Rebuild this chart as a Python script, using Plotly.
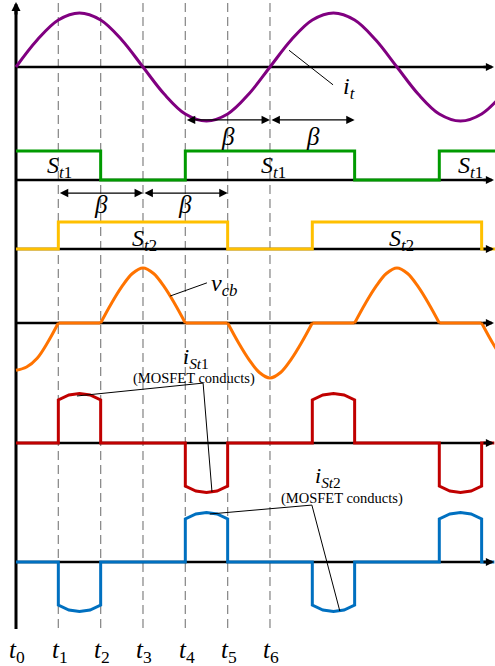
import numpy as np
import plotly.graph_objects as go

# ---------------------------------------------------------------- data
# time axis in units of one switching interval (t1 - t0)
T_TICKS = [0, 1, 2, 3, 4, 5, 6]
T_TICK_TEXT = ["<i>t</i><sub>0</sub>", "<i>t</i><sub>1</sub>", "<i>t</i><sub>2</sub>",
               "<i>t</i><sub>3</sub>", "<i>t</i><sub>4</sub>", "<i>t</i><sub>5</sub>",
               "<i>t</i><sub>6</sub>"]
GUIDE_TIMES = [1, 2, 3, 4, 5, 6]

# transformer current i_t (normalised), sampled every half interval
IT_T = np.arange(0.0, 12.0, 0.5)
IT_V = [0, 0.5, 0.87, 1, 0.87, 0.5, 0, -0.5, -0.87, -1, -0.87, -0.5,
        0, 0.5, 0.87, 1, 0.87, 0.5, 0, -0.5, -0.87, -1, -0.87, -0.5]

# gate signals S_t1 / S_t2 (edges, held until next edge)
ST1_T = [0, 2, 4, 8, 10, 11.4]
ST1_V = [1, 0, 1, 0, 1, 1]
ST2_T = [0, 1, 5, 7, 11, 11.4]
ST2_V = [0, 1, 0, 1, 0, 0]

# capacitor voltage v_cb, sampled every quarter interval
VCB_T = np.arange(0.0, 11.75, 0.25)
VCB_V = [-0.86, -0.8, -0.64, -0.35, 0,
         0, 0, 0, 0,
         0.35, 0.66, 0.9, 1, 0.9, 0.66, 0.35, 0,
         0, 0, 0, 0,
         -0.35, -0.66, -0.9, -1, -0.9, -0.66, -0.35, 0,
         0, 0, 0, 0,
         0.35, 0.66, 0.9, 1, 0.9, 0.66, 0.35, 0,
         0, 0, 0, 0,
         -0.35, -0.66]
VCB_KINKS = [1, 2, 4, 5, 7, 8, 10, 11]

# switch currents i_St1 / i_St2
IS_T = [0, 1, 1, 1.25, 1.5, 1.75, 2, 2,
        4, 4, 4.25, 4.5, 4.75, 5, 5,
        7, 7, 7.25, 7.5, 7.75, 8, 8,
        10, 10, 10.25, 10.5, 10.75, 11, 11, 11.3]
IST1_V = [0, 0, 0.87, 0.97, 1, 0.97, 0.87, 0,
          0, -0.87, -0.97, -1, -0.97, -0.87, 0,
          0, 0.87, 0.97, 1, 0.97, 0.87, 0,
          0, -0.87, -0.97, -1, -0.97, -0.87, 0, 0]
IST2_V = [0, 0, -0.87, -0.97, -1, -0.97, -0.87, 0,
          0, 0.87, 0.97, 1, 0.97, 0.87, 0,
          0, -0.87, -0.97, -1, -0.97, -0.87, 0,
          0, 0.87, 0.97, 1, 0.97, 0.87, 0, 0]

# ---------------------------------------------------------------- layout geometry
W, H = 495, 666
X0_PX, UNIT_PX = 16.0, 42.33
FONT = "Liberation Serif, Times New Roman, Times, serif"

# row: (axis id, zero line pixel row, pixels per unit, value range)
ROWS = {
    "it":   ("y",  67, 54.0, (-1.25, 1.2)),
    "st1":  ("y2", 180, 29.0, (-0.6, 1.6)),
    "st2":  ("y3", 249, 27.0, (-0.6, 1.6)),
    "vcb":  ("y4", 323, 55.0, (-1.2, 1.2)),
    "ist1": ("y5", 443, 49.5, (-1.3, 1.3)),
    "ist2": ("y6", 562, 49.5, (-1.3, 1.3)),
}

COLORS = {"it": "#800080", "st1": "#009a00", "st2": "#ffc000",
          "vcb": "#ff7300", "ist1": "#c00000", "ist2": "#0070c0"}
LW = 3


def tx(px):
    return (px - X0_PX) / UNIT_PX


def py(p):
    return 1 - p / H


X_END = tx(494)

fig = go.Figure()


def add(row, x, y, shape="linear", smoothing=1.0):
    fig.add_trace(go.Scatter(
        x=list(x), y=list(y), mode="lines", yaxis=ROWS[row][0],
        line=dict(color=COLORS[row], width=LW, shape=shape, smoothing=smoothing),
        hoverinfo="skip", showlegend=False))


add("it", IT_T, IT_V, shape="spline")
add("st1", ST1_T, ST1_V, shape="hv")
add("st2", ST2_T, ST2_V, shape="hv")

# v_cb drawn piecewise so the corners at the switching instants stay sharp
vt = list(VCB_T)
cuts = [0] + [vt.index(k) for k in VCB_KINKS] + [len(vt) - 1]
for a, b in zip(cuts[:-1], cuts[1:]):
    add("vcb", vt[a:b + 1], VCB_V[a:b + 1], shape="spline")

add("ist1", IS_T, IST1_V)
add("ist2", IS_T, IST2_V)

# leader lines from labels to waveforms
LEADERS = [
    ("it", [6.45, 7.49], [0.31, -0.33]),
    ("vcb", [3.64, 4.51], [0.49, 0.73]),
    ("ist1", [1.44, 4.42, 4.63], [0.95, 1.21, -0.99]),
    ("ist2", [4.58, 6.99, 7.65], [0.97, 1.15, -0.99]),
]
for row, lx, ly in LEADERS:
    fig.add_trace(go.Scatter(x=lx, y=ly, mode="lines", yaxis=ROWS[row][0],
                             line=dict(color="black", width=1),
                             hoverinfo="skip", showlegend=False))

shapes = []
annotations = []

# dashed guides at t1..t6
for t in GUIDE_TIMES:
    shapes.append(dict(type="line", xref="x", yref="paper", x0=t, x1=t,
                       y0=py(628), y1=1, layer="below",
                       line=dict(color="#8c8c8c", width=1.3, dash="9px,5px")))

# vertical time-origin axis with arrow at top
shapes.append(dict(type="line", xref="x", yref="paper", x0=0, x1=0,
                   y0=py(629), y1=py(10), layer="below",
                   line=dict(color="black", width=3)))
annotations.append(dict(x=0, y=py(2), xref="x", yref="paper", text="",
                        showarrow=True, ax=0, ay=14, arrowhead=2, arrowsize=0.6,
                        arrowwidth=3, arrowcolor="black"))

# horizontal zero line of every row, ending in an arrow
for row, (yid, _, _, _) in ROWS.items():
    shapes.append(dict(type="line", xref="x", yref=yid, x0=0, x1=X_END - 0.1,
                       y0=0, y1=0, layer="below",
                       line=dict(color="black", width=2.5)))
    annotations.append(dict(x=X_END, y=0, xref="x", yref=yid, text="",
                            showarrow=True, ax=-12, ay=0, arrowhead=2,
                            arrowsize=0.65, arrowwidth=2.5, arrowcolor="black"))

# beta interval arrows
BETA_ARROWS = [("y", -0.98, 4, 6), ("y", -0.98, 6, 8),
               ("y2", -0.45, 1, 3), ("y2", -0.45, 3, 5)]
for yid, v, t0, t1 in BETA_ARROWS:
    annotations.append(dict(x=t1, y=v, ax=t0, ay=v, xref="x", yref=yid,
                            axref="x", ayref=yid, text="", showarrow=True,
                            arrowside="end+start", arrowhead=2, startarrowhead=2,
                            arrowsize=1.4, startarrowsize=1.4, arrowwidth=1.2,
                            arrowcolor="black"))


def label(text, x_px, y_px, size=24):
    annotations.append(dict(x=tx(x_px), y=py(y_px), xref="x", yref="paper",
                            text=text, showarrow=False,
                            font=dict(family=FONT, size=size, color="black"),
                            xanchor="center", yanchor="middle"))


S1 = "<i>S</i><sub><i>t</i>1</sub>"
S2 = "<i>S</i><sub><i>t</i>2</sub>"
BETA = "<i>β</i>"
for xp in (59, 273, 470):
    label(S1, xp, 167)
for xp in (144, 401):
    label(S2, xp, 240)
for xp, yp in ((228, 136), (313, 136), (101, 204), (185, 204)):
    label(BETA, xp, yp, 25)
label("<i>i</i><sub><i>t</i></sub>", 349, 88)
label("<i>v</i><sub><i>cb</i></sub>", 224, 285)
label("<i>i</i><sub><i>St</i>1</sub>", 196, 358, 22)
label("(MOSFET conducts)", 194, 378, 14.5)
label("<i>i</i><sub><i>St</i>2</sub>", 328, 477, 22)
label("(MOSFET conducts)", 342, 498, 14.5)

# time instant labels
for t, txt in zip(T_TICKS, T_TICK_TEXT):
    annotations.append(dict(x=t + 0.03, y=py(634), xref="x", yref="paper",
                            text=txt, showarrow=False, yanchor="top",
                            font=dict(family=FONT, size=25, color="black")))

layout = dict(
    width=W, height=H, margin=dict(l=0, r=0, t=0, b=0),
    paper_bgcolor="white", plot_bgcolor="rgba(0,0,0,0)",
    showlegend=False, shapes=shapes, annotations=annotations,
    xaxis=dict(range=[tx(0), tx(W)], visible=False, anchor="y6", fixedrange=True),
)
for row, (yid, zero, amp, (lo, hi)) in ROWS.items():
    name = "yaxis" if yid == "y" else "yaxis" + yid[1:]
    layout[name] = dict(range=[lo, hi], visible=False, anchor="x", fixedrange=True,
                        domain=[py(zero - lo * amp), py(zero - hi * amp)])
fig.update_layout(**layout)

fig.write_html("out.html")
